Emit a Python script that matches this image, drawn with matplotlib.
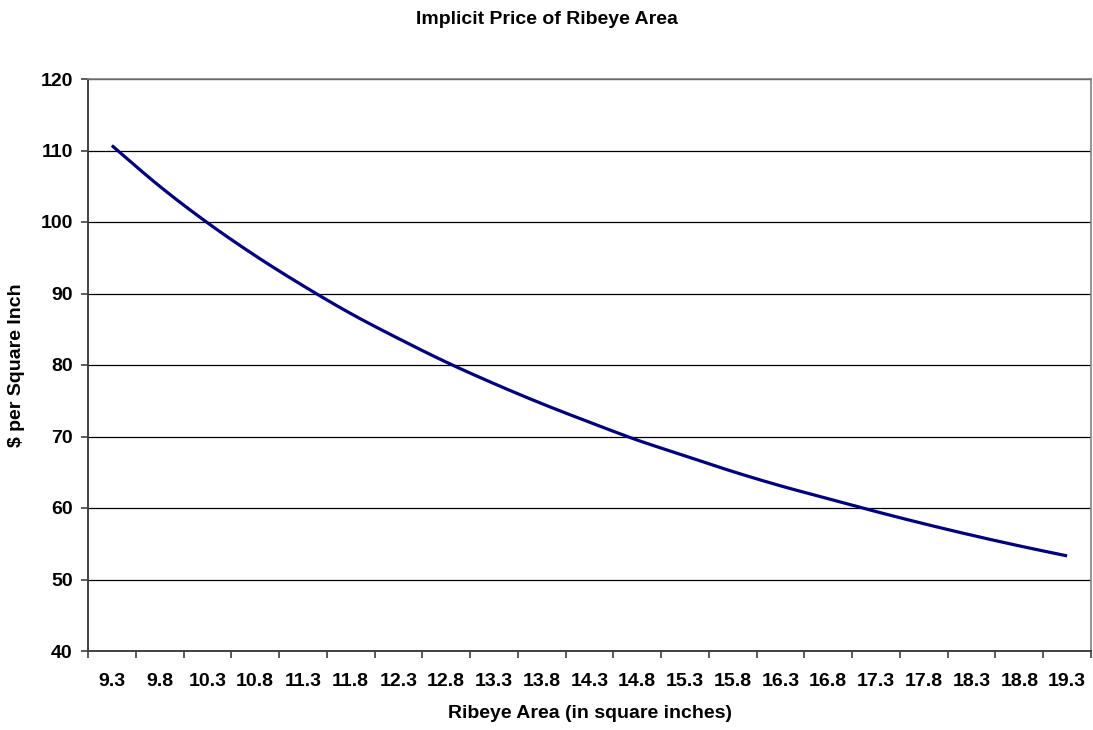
"""
Implicit Price of Ribeye Area - recreación del gráfico de línea estilo Excel
"""
import numpy as np
import matplotlib
matplotlib.use('Agg')
import matplotlib.pyplot as plt
from matplotlib.ticker import FixedLocator

plt.rcParams['font.family'] = ['Liberation Sans', 'DejaVu Sans']
plt.rcParams['font.weight'] = 'bold'

# Datos
ribeye_area = ["9.3", "9.8", "10.3", "10.8", "11.3", "11.8", "12.3", "12.8", "13.3", "13.8",
               "14.3", "14.8", "15.3", "15.8", "16.3", "16.8", "17.3", "17.8", "18.3", "18.8", "19.3"]
price_per_sq_inch = [110.7, 105.0, 99.9, 95.3, 91.1, 87.2, 83.7, 80.4, 77.4, 74.6,
                     72.0, 69.5, 67.3, 65.1, 63.1, 61.3, 59.5, 57.8, 56.2, 54.7, 53.3]
y_ticks = [40, 50, 60, 70, 80, 90, 100, 110, 120]


def smooth_line(x, y, steps=20):
    """Línea suavizada tipo Excel (Bezier con puntos de control Catmull-Rom)."""
    x = np.asarray(x, dtype=float)
    y = np.asarray(y, dtype=float)
    px = np.concatenate([[x[0]], x, [x[-1]]])
    py = np.concatenate([[y[0]], y, [y[-1]]])
    xs, ys = [], []
    t = np.linspace(0, 1, steps)
    for i in range(1, len(px) - 2):
        p0 = np.array([px[i], py[i]])
        p3 = np.array([px[i + 1], py[i + 1]])
        c1 = p0 + (np.array([px[i + 1], py[i + 1]]) - np.array([px[i - 1], py[i - 1]])) / 6
        c2 = p3 - (np.array([px[i + 2], py[i + 2]]) - np.array([px[i], py[i]])) / 6
        pts = ((1 - t)[:, None] ** 3 * p0 + 3 * ((1 - t) ** 2 * t)[:, None] * c1
               + 3 * ((1 - t) * t ** 2)[:, None] * c2 + (t ** 3)[:, None] * p3)
        xs.extend(pts[:, 0])
        ys.extend(pts[:, 1])
    return xs, ys


W, H = 1093, 730
fig = plt.figure(figsize=(W / 100, H / 100), dpi=100)
ax = fig.add_axes([88 / W, 1 - 651 / H, (1091 - 88) / W, (651 - 79) / H])

pos = list(range(len(ribeye_area)))
sx, sy = smooth_line(pos, price_per_sq_inch)
ax.plot(sx, sy, color='#000080', linewidth=2.3, solid_capstyle='butt')

ax.set_xlim(-0.5, len(ribeye_area) - 0.5)
ax.set_ylim(40, 120)
ax.set_yticks(y_ticks)
ax.set_yticklabels([str(v) for v in y_ticks], fontsize=14, fontweight='bold')
ax.set_xticks(pos)
ax.set_xticklabels(ribeye_area, fontsize=14, fontweight='bold')
ax.xaxis.set_minor_locator(FixedLocator([p - 0.5 for p in pos] + [len(pos) - 0.5]))

ax.tick_params(axis='x', which='major', length=0, pad=16)
ax.tick_params(axis='x', which='minor', length=5, width=1.2, color='#404040', direction='out')
ax.tick_params(axis='y', length=5, width=1.2, color='#404040', direction='out', pad=6)

ax.yaxis.grid(True, color='#000000', linewidth=0.9)
ax.set_axisbelow(True)

for side in ['top', 'right']:
    ax.spines[side].set_color('#808080')
    ax.spines[side].set_linewidth(1.2)
for side in ['left', 'bottom']:
    ax.spines[side].set_color('#404040')
    ax.spines[side].set_linewidth(1.4)

fig.text(547 / W, 1 - 20 / H, 'Implicit Price of Ribeye Area', ha='center', va='center',
         fontsize=14, fontweight='bold')
fig.text(590 / W, 1 - 713 / H, 'Ribeye Area (in square inches)', ha='center', va='center',
         fontsize=14, fontweight='bold')
fig.text(17 / W, 1 - 365 / H, '$ per Square Inch', ha='center', va='center',
         rotation=90, fontsize=14, fontweight='bold')

plt.savefig('out.png', dpi=100)
plt.close()
